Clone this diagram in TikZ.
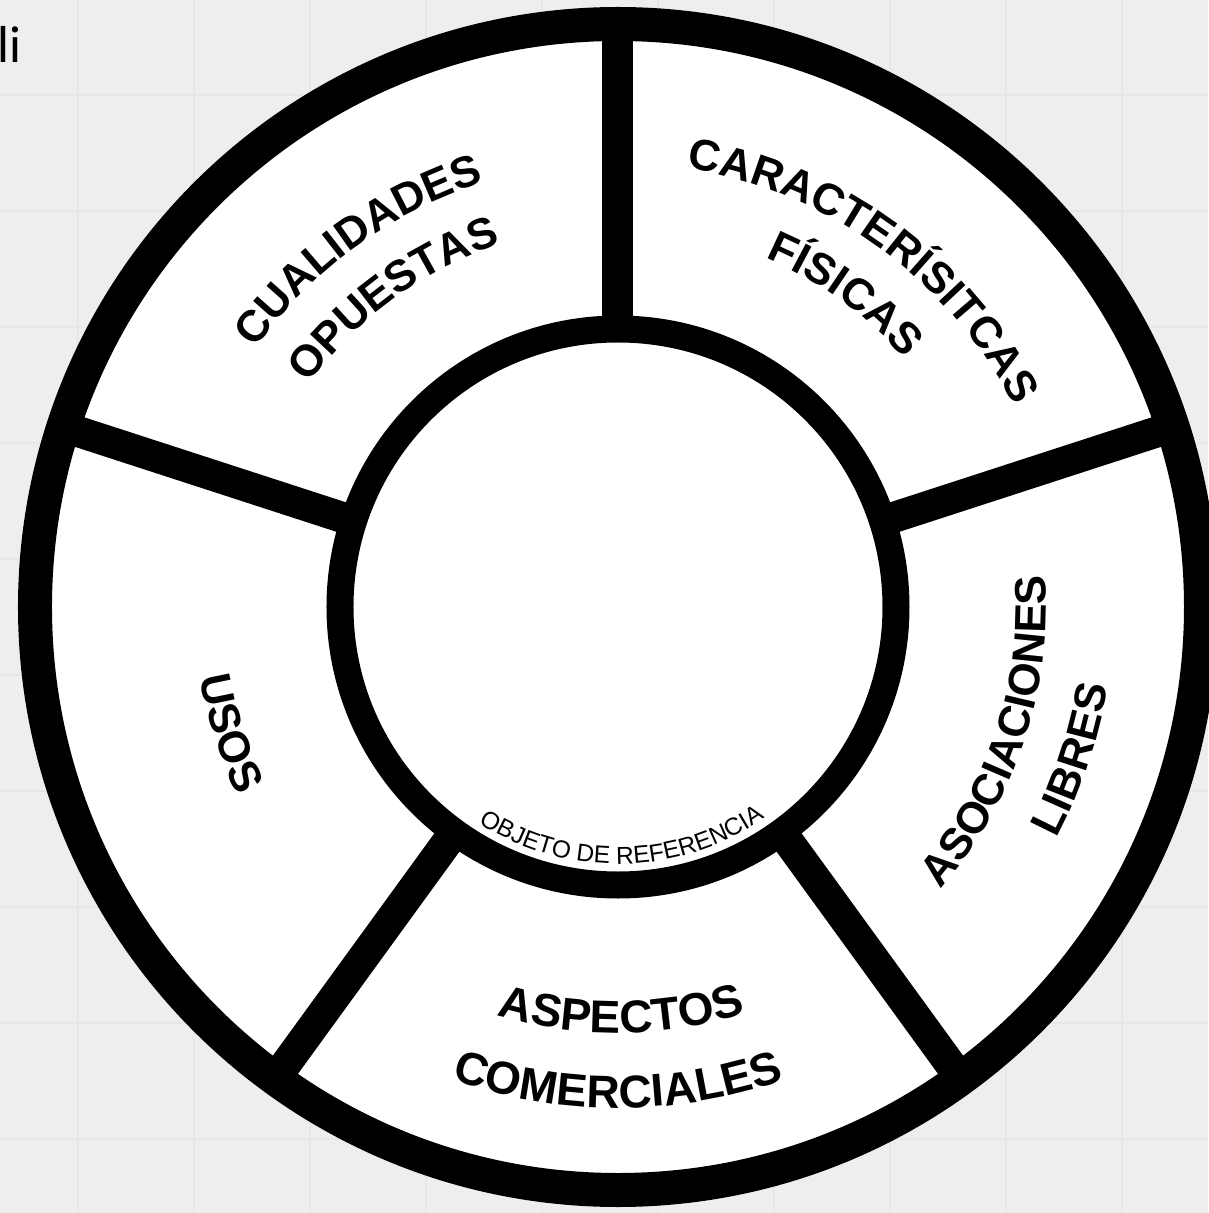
\documentclass[tikz,border=0pt]{standalone}
\usepackage{fontspec}
\setmainfont{Liberation Sans}
\newfontfamily\calib{Carlito}
\usetikzlibrary{decorations.text}
\definecolor{paper}{RGB}{238,238,238}
\definecolor{gridline}{RGB}{231,231,231}
\newcommand{\lblfont}{\fontsize{44}{52}\selectfont\bfseries}
\newcommand{\lblfontb}{\fontsize{46}{54}\selectfont\bfseries}
\newcommand{\smallfont}{\fontsize{24.5}{28}\selectfont}
\begin{document}
\begin{tikzpicture}[
  ring/.style={line width=34pt, draw=black},
  hub/.style={line width=27pt, draw=black},
  spoke/.style={line width=31pt, draw=black},
  gridstyle/.style={draw=gridline, line width=2pt},
  arclabel/.style={decorate, decoration={text along path, text align=center, text={#1}}}
]
\useasboundingbox (-618pt,-606pt) rectangle (590pt,607pt);
\fill[paper] (-618pt,-606pt) rectangle (590pt,607pt);
\foreach \x in {-540,-424,-308,-192,-76,40,156,272,388,504}
  \draw[gridstyle] (\x pt,-606pt) -- (\x pt,607pt);
\foreach \y in {512,396,280,164,48,-68,-184,-300,-416,-532}
  \draw[gridstyle] (-618pt,\y pt) -- (590pt,\y pt);
\node[anchor=base west, font=\calib\fontsize{52}{60}\selectfont, text=black, inner sep=0pt] (li) at (-621pt,544pt) {li};
\coordinate (C) at (0,0);
\fill[white] (C) circle (600pt);
\foreach \a in {18,90,162,234,306}
  \draw[spoke] (\a:278pt) -- (\a:583pt);
\draw[ring] (C) circle (583pt);
\draw[hub] (C) circle (278pt);
% upper-left sector (centre 126)
\path[arclabel={|\lblfont|CUALIDADES}] (166:445pt) arc[start angle=166, end angle=86, radius=445pt];
\path[arclabel={|\lblfont|OPUESTAS}] (166:381pt) arc[start angle=166, end angle=86, radius=381pt];
% upper-right sector (centre 54)
\path[arclabel={|\lblfont|CARACTERÍSITCAS}] (94:444pt) arc[start angle=94, end angle=14, radius=444pt];
\path[arclabel={|\lblfont|FÍSICAS}] (94:379pt) arc[start angle=94, end angle=14, radius=379pt];
% right-lower sector (centre 342)
\path[arclabel={|\lblfont|ASOCIACIONES}] (301.5:428pt) arc[start angle=301.5, end angle=381.5, radius=428pt];
\path[arclabel={|\lblfont|LIBRES}] (301.5:496pt) arc[start angle=301.5, end angle=381.5, radius=496pt];
% bottom sector (centre 270)
\path[arclabel={|\lblfontb|ASPECTOS}] (230.5:426pt) arc[start angle=230.5, end angle=310.5, radius=426pt];
\path[arclabel={|\lblfontb|COMERCIALES}] (230:501pt) arc[start angle=230, end angle=310, radius=501pt];
% left sector (centre 198)
\path[arclabel={|\lblfont|USOS}] (158:424pt) arc[start angle=158, end angle=238, radius=424pt];
% hub label
\path[arclabel={|\smallfont|OBJETO DE REFERENCIA}] (211:257pt) arc[start angle=211, end angle=331, radius=257pt];
\end{tikzpicture}
\end{document}
